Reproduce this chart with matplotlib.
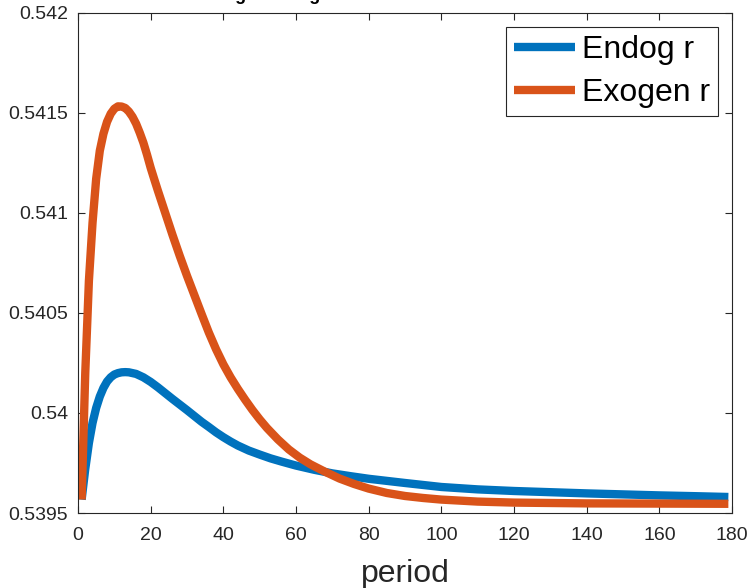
import matplotlib
matplotlib.use("Agg")
import matplotlib.pyplot as plt

plt.rcParams['font.family'] = ['Liberation Sans', 'DejaVu Sans']

period_endog = [1, 2, 3, 4, 5, 6, 7, 8, 9, 10, 11, 12, 13, 14, 16, 18, 20, 22, 24, 26,
                28, 30, 32, 34, 36, 38, 40, 42, 44, 47, 50, 53, 56, 60, 65, 70, 75, 80,
                90, 100, 110, 120, 130, 140, 150, 160, 170, 179]
r_endog = [0.539567, 0.539720, 0.539850, 0.539950, 0.540025, 0.540082, 0.540125, 0.540157,
           0.540178, 0.540192, 0.540199, 0.540203, 0.540204, 0.540203, 0.540195, 0.540178,
           0.540155, 0.540128, 0.540099, 0.540070, 0.540042, 0.540014, 0.539985, 0.539956,
           0.539930, 0.539903, 0.539879, 0.539857, 0.539837, 0.539812, 0.539792, 0.539773,
           0.539757, 0.539737, 0.539716, 0.539698, 0.539684, 0.539671, 0.539650, 0.539630,
           0.539618, 0.539610, 0.539604, 0.539598, 0.539593, 0.539588, 0.539584, 0.539580]

period_exogen = [1, 2, 3, 4, 5, 6, 7, 8, 9, 10, 11, 12, 13, 14, 15, 16, 17, 18, 19, 20,
                 21, 22, 24, 26, 28, 30, 32, 34, 36, 38, 40, 42, 44, 46, 48, 50, 52, 55,
                 58, 61, 64, 68, 72, 76, 80, 85, 90, 95, 100, 110, 120, 140, 160, 179]
r_exogen = [0.539567, 0.540200, 0.540660, 0.540950, 0.541170, 0.541310, 0.541395, 0.541455,
            0.541495, 0.541520, 0.541532, 0.541531, 0.541524, 0.541506, 0.541480, 0.541445,
            0.541400, 0.541350, 0.541290, 0.541225, 0.541167, 0.541110, 0.541000, 0.540890,
            0.540785, 0.540685, 0.540590, 0.540495, 0.540402, 0.540318, 0.540243, 0.540178,
            0.540120, 0.540066, 0.540015, 0.539968, 0.539925, 0.539868, 0.539818, 0.539777,
            0.539743, 0.539706, 0.539672, 0.539645, 0.539622, 0.539600, 0.539585, 0.539575,
            0.539567, 0.539557, 0.539552, 0.539548, 0.539547, 0.539546]

series_names = ['Endog r', 'Exogen r']
xticks = [0, 20, 40, 60, 80, 100, 120, 140, 160, 180]
yticks = [0.5395, 0.54, 0.5405, 0.541, 0.5415, 0.542]
ytick_labels = ['0.5395', '0.54', '0.5405', '0.541', '0.5415', '0.542']

axcol = '#262626'

fig = plt.figure(figsize=(7.51, 5.88), dpi=100)
ax = fig.add_axes([78/751, 1 - 513/588, 654/751, 500.3/588])

ax.plot(period_endog, r_endog, color='#0072BD', lw=6, solid_capstyle='butt',
        solid_joinstyle='round', label=series_names[0])
ax.plot(period_exogen, r_exogen, color='#D95319', lw=6, solid_capstyle='butt',
        solid_joinstyle='round', label=series_names[1])

ax.set_xlim(0, 180)
ax.set_ylim(0.5395, 0.542)
ax.set_xticks(xticks)
ax.set_xticklabels([str(v) for v in xticks])
ax.set_yticks(yticks)
ax.set_yticklabels(ytick_labels)

for s in ax.spines.values():
    s.set_color(axcol)
    s.set_linewidth(0.8)
ax.tick_params(direction='in', length=5, width=0.8, top=True, right=True,
               labelsize=14, colors=axcol)
ax.tick_params(axis='x', pad=10)
ax.tick_params(axis='y', pad=7)

ax.set_xlabel('period', fontsize=23, color=axcol, labelpad=11)

leg = ax.legend(loc='upper right', fontsize=23, frameon=True, fancybox=False,
                edgecolor=axcol, framealpha=1, borderpad=0.25, labelspacing=0.4,
                handlelength=1.9, handletextpad=0.2, borderaxespad=0.45)
leg.get_frame().set_linewidth(0.8)

# title sits above the figure edge, only the descenders show
fig.text(190/751, 1 + 0.5/588, 'Endog vs Exog interest rate', fontsize=13,
         fontweight='bold', ha='left', va='baseline')

fig.savefig('out.png', dpi=100)
